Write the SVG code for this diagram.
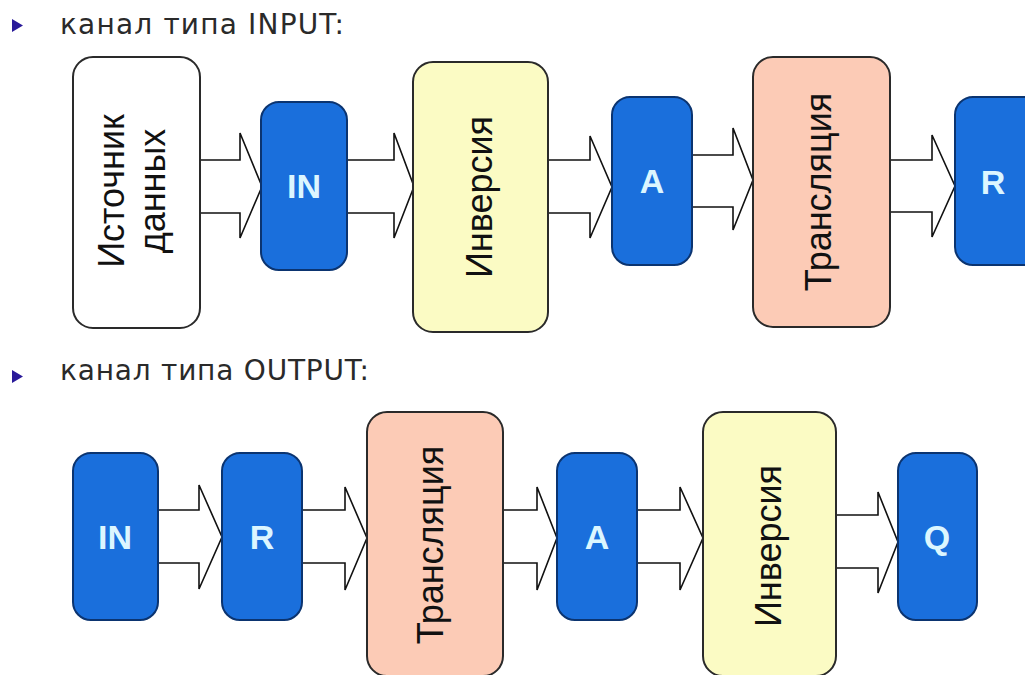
<svg xmlns="http://www.w3.org/2000/svg" width="1025" height="675" viewBox="0 0 1025 675">
<style>
.hdr{font-family:"DejaVu Sans",Verdana,sans-serif;font-size:28px;fill:#2a2a2a}
.blue rect{fill:#1a6fdc;stroke:#0b3470;stroke-width:2}
.blue text{font-family:"Liberation Sans",Arial,sans-serif;font-weight:bold;font-size:34px;fill:#dcf6ff;text-anchor:middle}
.box rect{stroke:#2a2a2a;stroke-width:2}
.box text{font-family:"Liberation Sans",Arial,sans-serif;font-size:36px;fill:#111;text-anchor:middle}
.arrow{fill:#fff;stroke:#111;stroke-width:1.6;stroke-linejoin:miter}
.bullet{fill:#2a1a9a}
</style>
<rect width="1025" height="675" fill="#fff"/>
<g id="header-input">
<polygon class="bullet" points="12,19 23,25.5 12,32"/>
<text class="hdr" x="60" y="34" textLength="284" lengthAdjust="spacing">канал типа INPUT:</text>
</g>
<g id="header-output">
<polygon class="bullet" points="12,370 23,376.5 12,383"/>
<text class="hdr" x="60" y="380" textLength="309" lengthAdjust="spacing">канал типа OUTPUT:</text>
</g>
<g id="connectors">
<path class="arrow" d="M200,160 H240 V133 L262,186.5 L240,238 V213 H200"/>
<path class="arrow" d="M347,160 H394 V133 L414,186.5 L394,238 V213 H347"/>
<path class="arrow" d="M548,160 H590 V136 L612,187 L590,238 V213 H548"/>
<path class="arrow" d="M692,155 H733 V128 L753,180 L733,230 V207 H692"/>
<path class="arrow" d="M890,160 H932 V135 L955,186 L932,237 V212 H890"/>
<path class="arrow" d="M158,510 H199 V485 L222,537 L199,589 V563 H158"/>
<path class="arrow" d="M302,510 H345 V487 L367,538 L345,590 V563 H302"/>
<path class="arrow" d="M503,510 H537 V487 L557,538 L537,590 V563 H503"/>
<path class="arrow" d="M637,510 H680 V487 L703,538 L680,590 V563 H637"/>
<path class="arrow" d="M835,515 H878 V492 L898,542 L878,593 V568 H835"/>
</g>
<g id="in-source" class="box">
<rect x="73" y="57" width="127" height="271" rx="20" fill="#fff" stroke-width="2.5"/>
<text transform="translate(124,191) rotate(-90)">Источник</text>
<text transform="translate(165,191) rotate(-90)">данных</text>
</g>
<g id="in-IN" class="blue">
<rect x="261" y="102" width="86" height="168" rx="18"/>
<text x="304" y="198">IN</text>
</g>
<g id="in-inversion" class="box">
<rect x="413" y="62" width="135" height="270" rx="20" fill="#fbfbc4"/>
<text transform="translate(492,197) rotate(-90)">Инверсия</text>
</g>
<g id="in-A" class="blue">
<rect x="612" y="97" width="80" height="168" rx="18"/>
<text x="652" y="193">A</text>
</g>
<g id="in-translation" class="box">
<rect x="753" y="57" width="137" height="270" rx="20" fill="#fccbb6"/>
<text transform="translate(831,192) rotate(-90)">Трансляция</text>
</g>
<g id="in-R" class="blue">
<rect x="955" y="97" width="90" height="168" rx="18"/>
<text x="993" y="194">R</text>
</g>
<g id="out-IN" class="blue">
<rect x="73" y="453" width="85" height="167" rx="18"/>
<text x="115" y="549">IN</text>
</g>
<g id="out-R" class="blue">
<rect x="222" y="453" width="80" height="167" rx="18"/>
<text x="262" y="549">R</text>
</g>
<g id="out-translation" class="box">
<rect x="367" y="412" width="136" height="264" rx="20" fill="#fccbb6"/>
<text transform="translate(443,545) rotate(-90)">Трансляция</text>
</g>
<g id="out-A" class="blue">
<rect x="557" y="453" width="80" height="167" rx="18"/>
<text x="597" y="549">A</text>
</g>
<g id="out-inversion" class="box">
<rect x="703" y="412" width="133" height="264" rx="20" fill="#fbfbc4"/>
<text transform="translate(781,546) rotate(-90)">Инверсия</text>
</g>
<g id="out-Q" class="blue">
<rect x="898" y="453" width="79" height="167" rx="18"/>
<text x="937" y="549">Q</text>
</g>
</svg>
